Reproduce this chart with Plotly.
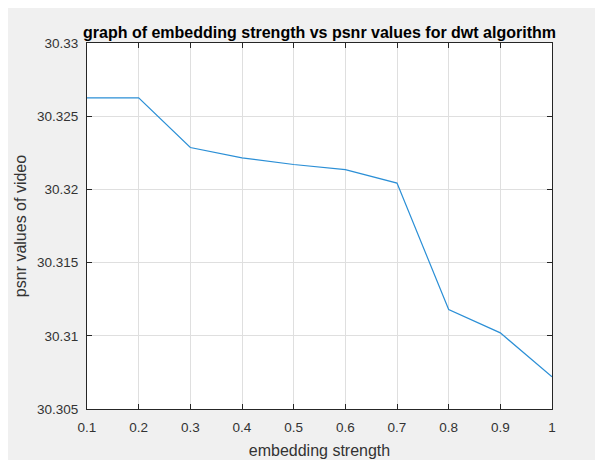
import plotly.graph_objects as go

strength = [0.1, 0.2, 0.3, 0.4, 0.5, 0.6, 0.7, 0.8, 0.9, 1.0]
psnr = [30.32625, 30.32625, 30.32286, 30.32215, 30.32170, 30.32135, 30.32043, 30.31180, 30.31020, 30.30720]
x_ticks = [0.1, 0.2, 0.3, 0.4, 0.5, 0.6, 0.7, 0.8, 0.9, 1.0]
x_ticklabels = ["0.1", "0.2", "0.3", "0.4", "0.5", "0.6", "0.7", "0.8", "0.9", "1"]
y_ticks = [30.305, 30.31, 30.315, 30.32, 30.325, 30.33]
y_ticklabels = ["30.305", "30.31", "30.315", "30.32", "30.325", "30.33"]

# the page body adds an 8px offset; compensate in margins
OFF = 8
W, H = 603, 460
L, R, T, B = 84 - OFF, 51 + OFF, 43 - OFF, 47 + OFF
pw = W - L - R

font = "Liberation Sans, Arial, sans-serif"
axcol = "#262626"
txtcol = "#333333"

fig = go.Figure()
fig.add_trace(go.Scatter(x=strength, y=psnr, mode="lines",
                         line=dict(color="#2b8fd6", width=1.2), showlegend=False))

fig.update_layout(
    width=W, height=H,
    margin=dict(l=L, r=R, t=T, b=B, pad=0),
    paper_bgcolor="#f0f0f0",
    plot_bgcolor="white",
    font=dict(family=font, color=txtcol, size=13),
    title=dict(text="<b>graph of embedding strength vs psnr values for dwt algorithm</b>",
               x=(318 - 84) / pw, xref="paper", xanchor="center",
               y=1 - (32 - OFF) / H, yanchor="middle",
               font=dict(size=16, color="#000000", family=font)),
)
fig.update_xaxes(range=[0.1, 1.0], tickvals=x_ticks, ticktext=x_ticklabels,
                 showgrid=True, gridcolor="#dfdfdf", gridwidth=1,
                 showline=True, linecolor=axcol, linewidth=1, mirror="ticks",
                 ticks="inside", ticklen=5, tickcolor=axcol, zeroline=False,
                 ticklabelstandoff=6,
                 tickfont=dict(size=13.5, color=txtcol),
                 title=dict(text="embedding strength", standoff=10,
                            font=dict(size=16, color=txtcol)))
fig.update_yaxes(range=[30.305, 30.33], tickvals=y_ticks, ticktext=y_ticklabels,
                 showgrid=True, gridcolor="#dfdfdf", gridwidth=1,
                 showline=True, linecolor=axcol, linewidth=1, mirror="ticks",
                 ticks="inside", ticklen=5, tickcolor=axcol, zeroline=False,
                 ticklabelstandoff=5,
                 tickfont=dict(size=13.5, color=txtcol),
                 title=dict(text="psnr values of video", standoff=6,
                            font=dict(size=16, color=txtcol)))

fig.write_html("out.html")
